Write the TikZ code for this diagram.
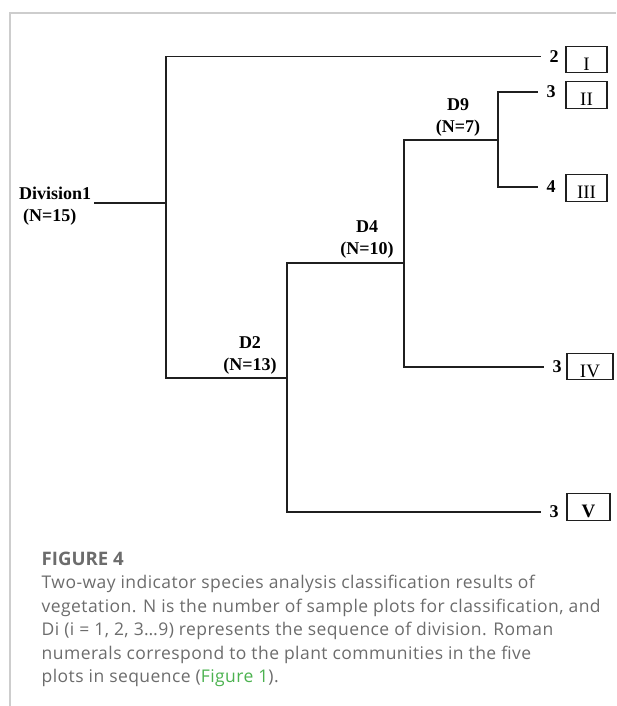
\documentclass[tikz,border=0pt]{standalone}
\usepackage{fontspec}
\setmainfont{Liberation Serif}
\newfontfamily\capfont[LetterSpace=2.5]{Open Sans}
\newfontfamily\capheadfont{Open Sans}
\usetikzlibrary{positioning}
\definecolor{capgray}{RGB}{108,108,108}
\definecolor{figgreen}{RGB}{76,178,80}
\definecolor{framegray}{RGB}{205,205,205}
\tikzset{
  branch/.style={draw=black!88,line width=1.5pt},
  divlabel/.style={font=\fontsize{18}{22}\selectfont\bfseries,align=center,inner sep=0pt},
  count/.style={font=\fontsize{18}{22}\selectfont\bfseries,inner xsep=9pt,inner ysep=1pt,outer sep=0pt},
  community/.style={draw=black!88,line width=1.1pt,minimum width=41pt,inner xsep=0pt,inner ysep=0pt,
    text height=24pt,text depth=2.5pt,font=\fontsize{19}{22}\selectfont},
  frame/.style={draw=framegray,line width=2pt}
}

\begin{document}
\begin{tikzpicture}[x=1pt,y=-1pt]
  \useasboundingbox (0,0) rectangle (616,706);
  % frame
  \coordinate (fcorner) at (10,13.5);
  \coordinate (ftop) at (616,13.5);
  \coordinate (fbottom) at (10,706);
  \draw[frame] (fbottom) -- (fcorner) -- (ftop);

  % junctions
  \coordinate (d1in) at (94,203);
  \coordinate (j1) at (166,203);
  \coordinate (j2) at (287,378);
  \coordinate (j4) at (404,263);
  \coordinate (j9) at (498,140);

  % division labels
  \node[divlabel,align=left,anchor=north west] (div1) at (19,187) {Division1\\\hspace*{4pt}(N=15)};
  \node[divlabel,anchor=south] (d2) at (250,375) {D2\\(N=13)};
  \node[divlabel,anchor=south] (d4) at (367,259) {D4\\(N=10)};
  \node[divlabel,anchor=south] (d9) at (458,137) {D9\\(N=7)};

  % plot counts
  \node[count] (n1) at (554,56.5) {2};
  \node[count] (n2) at (551,92) {3};
  \node[count] (n3) at (551,187) {4};
  \node[count] (n4) at (557,367) {3};
  \node[count] (n5) at (554,512) {3};

  % communities
  \node[community] (c1) at (586.5,59.5) {I};
  \node[community] (c2) at (586.5,95) {II};
  \node[community] (c3) at (586.5,188) {III};
  \node[community,minimum width=46pt] (c4) at (590,366.5) {IV};
  \node[community,minimum width=43pt,font=\fontsize{19}{22}\selectfont\bfseries] (c5) at (588.5,507) {V};

  % tree
  \draw[branch] (d1in) -- (j1);
  \draw[branch] (j1) |- (n1);
  \draw[branch] (j1) |- (j2);
  \draw[branch] (j2) |- (j4);
  \draw[branch] (j2) |- (n5);
  \draw[branch] (j4) |- (j9);
  \draw[branch] (j4) |- (n4);
  \draw[branch] (j9) |- (n2);
  \draw[branch] (j9) |- (n3);

  % caption (base = last line)
  \node[anchor=base west,inner sep=0pt,text=capgray,font=\capheadfont\bfseries\fontsize{18.6}{24}\selectfont] (fig) at (41.5,565) {FIGURE 4};
  \node[anchor=base west,inner sep=0pt,align=left,text=capgray,font=\capfont\fontsize{17.5}{23.5}\selectfont] (cap) at (41.5,682.5)
    {Two-way indicator species analysis classification results of\\
     vegetation. N is the number of sample plots for classification, and\\
     Di (i = 1, 2, 3\ldots9) represents the sequence of division. Roman\\
     numerals correspond to the plant communities in the five\\
     plots in sequence ({\color{figgreen}Figure 1}).};
\end{tikzpicture}
\end{document}
